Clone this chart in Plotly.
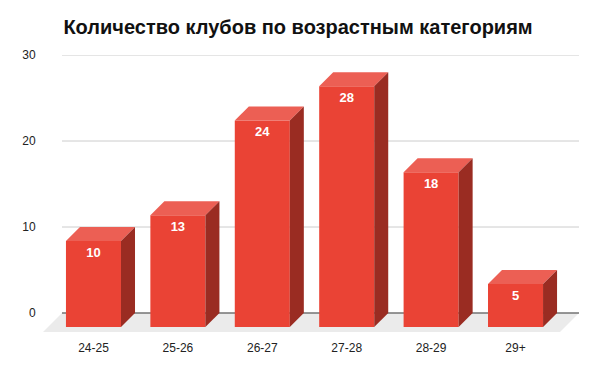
import plotly.graph_objects as go

categories = ["24-25", "25-26", "26-27", "27-28", "28-29", "29+"]
values = [10, 13, 24, 28, 18, 5]
y_ticks = [0, 10, 20, 30]
title = "Количество клубов по возрастным категориям"

# styling / geometry (in axis units)
FRONT = "#ea4335"
TOP = "#ec5f54"
SIDE = "#9a2c22"
FLOOR = "#ebebeb"
GRID = "#cccccc"
HALF_W = 0.326      # half bar width (category units)
DX = 0.166          # depth offset in x (category units)
DY = 1.63           # depth offset in y (value units)
FDX = 0.225         # floor depth in x
FDY = 2.21          # floor depth in y
XMIN, XMAX = -0.598, 5.752
LABEL_OFF = 1.43

fig = go.Figure()

n = len(categories)
back_left = XMIN + FDX
# floor
fig.add_trace(go.Scatter(
    x=[back_left, XMAX, XMAX - FDX, XMIN, back_left],
    y=[0, 0, -FDY, -FDY, 0],
    fill="toself", fillcolor=FLOOR, mode="lines", line=dict(width=0),
    hoverinfo="skip", showlegend=False))
# gridlines
gx, gy = [], []
for t in y_ticks[1:]:
    gx += [back_left, XMAX, None]
    gy += [t, t, None]
fig.add_trace(go.Scatter(x=gx, y=gy, mode="lines", line=dict(color=GRID, width=1),
                         hoverinfo="skip", showlegend=False))
fig.add_trace(go.Scatter(x=[back_left, XMAX], y=[0, 0], mode="lines",
                         line=dict(color="#333333", width=1),
                         hoverinfo="skip", showlegend=False))

for i, v in enumerate(values):
    l, r = i - HALF_W, i + HALF_W
    # front face
    fig.add_trace(go.Scatter(
        x=[l, r, r, l, l], y=[-DY, -DY, v - DY, v - DY, -DY],
        fill="toself", fillcolor=FRONT, mode="lines", line=dict(width=0),
        hoverinfo="skip", showlegend=False))
    # top face
    fig.add_trace(go.Scatter(
        x=[l, r, r + DX, l + DX, l], y=[v - DY, v - DY, v, v, v - DY],
        fill="toself", fillcolor=TOP, mode="lines", line=dict(width=0),
        hoverinfo="skip", showlegend=False))
    # side face
    fig.add_trace(go.Scatter(
        x=[r, r + DX, r + DX, r, r], y=[-DY, 0, v, v - DY, -DY],
        fill="toself", fillcolor=SIDE, mode="lines", line=dict(width=0),
        hoverinfo="skip", showlegend=False))

# value labels
fig.add_trace(go.Scatter(
    x=list(range(n)), y=[v - DY - LABEL_OFF for v in values],
    text=[str(v) for v in values], mode="text",
    textfont=dict(family="Liberation Sans", size=13, color="white", weight="bold"),
    hoverinfo="skip", showlegend=False))

fig.update_layout(
    width=596, height=368,
    margin=dict(l=43, r=17, t=55, b=36),
    paper_bgcolor="white", plot_bgcolor="white",
    title=dict(text=title, x=0.5, xanchor="center", y=1 - 27 / 368, yanchor="middle",
               font=dict(family="Liberation Sans", size=20, color="#111111", weight="bold")),
    xaxis=dict(range=[XMIN, XMAX], tickvals=list(range(n)), ticktext=categories,
               showgrid=False, zeroline=False, showline=False,
               ticks="outside", ticklen=5, tickcolor="rgba(0,0,0,0)",
               tickfont=dict(family="Liberation Sans", size=12, color="#222222"),
               fixedrange=True),
    yaxis=dict(range=[-FDY, 30], tickvals=y_ticks, showgrid=False, zeroline=False,
               showline=False, ticks="outside", ticklen=4, tickcolor="rgba(0,0,0,0)",
               tickfont=dict(family="Liberation Sans", size=12, color="#222222"),
               fixedrange=True),
    font=dict(family="Liberation Sans"),
)

fig.write_html("out.html")
